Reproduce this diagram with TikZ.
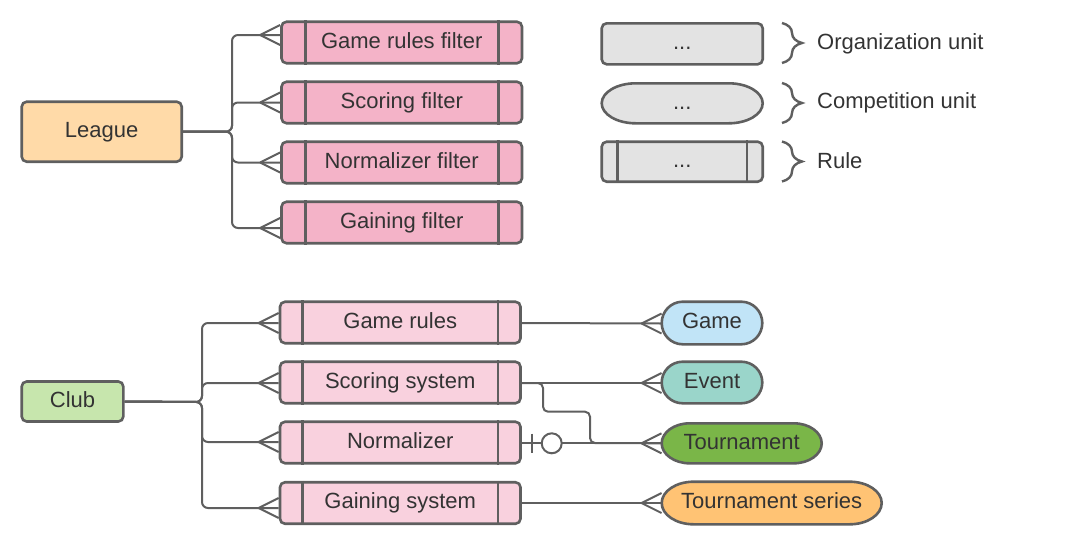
\documentclass[tikz,border=0pt]{standalone}
\usepackage{fontspec}
\setmainfont{Liberation Sans}
\usetikzlibrary{calc,decorations.pathreplacing}
\definecolor{bord}{HTML}{5F5F5F}
\definecolor{txtc}{HTML}{333333}
\definecolor{leaguec}{HTML}{FFDAA8}
\definecolor{clubc}{HTML}{C7E6AD}
\definecolor{pinkA}{HTML}{F4B3C8}
\definecolor{pinkB}{HTML}{F9D1DE}
\definecolor{gamec}{HTML}{C1E4F7}
\definecolor{eventc}{HTML}{9AD5CA}
\definecolor{tourc}{HTML}{7AB648}
\definecolor{seriesc}{HTML}{FFC374}
\definecolor{grayc}{HTML}{E3E3E3}
\tikzset{
  txt/.style={text=txtc,font=\fontsize{22}{24}\selectfont,inner sep=0pt,text height=16pt,text depth=4.5pt},
  ln/.style={draw=bord,line width=2.6pt},
  cn/.style={draw=bord,line width=2pt},
  unitbox/.style={txt,ln,rounded corners=5pt},
  crow/.pic={\draw[cn] (-20,0) -- (0,10) (-20,0) -- (0,-10);},
  bracestyle/.style={draw=bord,line width=2.4pt,decorate,decoration={brace,amplitude=20pt}}
}
% rule box: name, cx, cy (px, y down), w, h, fill, text, inset
\newcommand\rulebox[8]{%
  \node[unitbox,fill=#6,minimum width=#4pt,minimum height=#5pt] (#1) at (#2,-#3) {#7};
  \draw[ln] ([xshift=#8pt]#1.north west) -- ([xshift=#8pt]#1.south west)
            ([xshift=-#8pt]#1.north east) -- ([xshift=-#8pt]#1.south east);}
% stadium with elliptic ends: name, cx, cy, w, h, xr, fill, text
\newcommand\stad[8]{%
  \pgfmathsetmacro\sxL{#2-#4/2+#6}\pgfmathsetmacro\sxR{#2+#4/2-#6}%
  \pgfmathsetmacro\syT{-#3+#5/2}\pgfmathsetmacro\syB{-#3-#5/2}\pgfmathsetmacro\syH{#5/2}%
  \draw[ln,fill=#7] (\sxL,\syT) -- (\sxR,\syT)
     arc[start angle=90,end angle=-90,x radius=#6pt,y radius=\syH pt] -- (\sxL,\syB)
     arc[start angle=270,end angle=90,x radius=#6pt,y radius=\syH pt] -- cycle;
  \node[txt,minimum width=#4pt,minimum height=#5pt] (#1) at (#2,-#3) {#8};}
\begin{document}
\begin{tikzpicture}[x=1pt,y=1pt]
\useasboundingbox (0,0) rectangle (1081,-544);
% ---------- top: League ----------
\node[unitbox,fill=leaguec,minimum width=160pt,minimum height=60pt] (league) at (101.7,-131.7) {League};
\rulebox{f1}{401.75}{42.5}{240.5}{41.5}{pinkA}{Game rules filter}{25}
\rulebox{f2}{401.75}{102.5}{240.5}{41.5}{pinkA}{Scoring filter}{25}
\rulebox{f3}{401.75}{162.5}{240.5}{41.5}{pinkA}{Normalizer filter}{25}
\rulebox{f4}{401.75}{222.5}{240.5}{41.5}{pinkA}{Gaining filter}{25}
\coordinate (tA) at (232,-131.7);
\draw[cn,rounded corners=6pt] (league.east) -- (tA) -- (232,-35) -- ([yshift=7.5pt]f1.west);
\draw[cn,rounded corners=6pt] (league.east) -- (tA) -- (232,-102.5) -- (f2.west);
\draw[cn,rounded corners=6pt] (league.east) -- (tA) -- (232,-162.5) -- (f3.west);
\draw[cn,rounded corners=6pt] (league.east) -- (tA) -- (232,-228) -- ([yshift=-5.5pt]f4.west);
\path ([yshift=7.5pt]f1.west) pic{crow};
\path (f2.west) pic{crow};
\path (f3.west) pic{crow};
\path ([yshift=-5.5pt]f4.west) pic{crow};
% ---------- legend ----------
\node[unitbox,fill=grayc,minimum width=161pt,minimum height=41pt] (lorg) at (682.2,-43.8) {...};
\stad{lcomp}{682.2}{103.3}{161}{40}{34}{grayc}{...}
\rulebox{lrule}{682.2}{161.7}{161}{40}{grayc}{...}{17}
\draw[bracestyle] (782,-23) -- (782,-63);
\draw[bracestyle] (782,-83) -- (782,-123);
\draw[bracestyle] (782,-141.5) -- (782,-181.5);
\node[txt,anchor=west] (lbl1) at (817,-43.5) {Organization unit};
\node[txt,anchor=west] (lbl2) at (817,-103) {Competition unit};
\node[txt,anchor=west] (lbl3) at (817,-162.5) {Rule};
% ---------- bottom: Club ----------
\node[unitbox,fill=clubc,minimum width=101.6pt,minimum height=40pt] (club) at (72.5,-401.5) {Club};
\rulebox{r1}{400.25}{322.5}{240.5}{41.5}{pinkB}{Game rules}{24}
\rulebox{r2}{400.25}{382.5}{240.5}{41.5}{pinkB}{Scoring system}{24}
\rulebox{r3}{400.25}{442.5}{240.5}{41.5}{pinkB}{Normalizer}{24}
\rulebox{r4}{400.25}{503}{240.5}{41.5}{pinkB}{Gaining system}{24}
\coordinate (tB) at (202,-402);
\draw[cn,rounded corners=6pt] (club.east) -- (tB) -- (202,-323) -- ([yshift=-0.5pt]r1.west);
\draw[cn,rounded corners=6pt] (club.east) -- (tB) -- (202,-383) -- ([yshift=-0.5pt]r2.west);
\draw[cn,rounded corners=6pt] (club.east) -- (tB) -- (202,-442) -- ([yshift=0.5pt]r3.west);
\draw[cn,rounded corners=6pt] (club.east) -- (tB) -- (202,-508) -- ([yshift=-5pt]r4.west);
\path ([yshift=-0.5pt]r1.west) pic{crow};
\path ([yshift=-0.5pt]r2.west) pic{crow};
\path ([yshift=0.5pt]r3.west) pic{crow};
\path ([yshift=-5pt]r4.west) pic{crow};
% competition units
\stad{game}{712}{323}{100.6}{42.6}{21}{gamec}{Game}
\stad{event}{712}{382.5}{100.6}{41.6}{21}{eventc}{Event}
\stad{tour}{741.7}{443.3}{160}{40}{28}{tourc}{Tournament}
\stad{series}{771.7}{503}{220}{42.6}{32}{seriesc}{Tournament series}
% right connectors
\draw[cn] ([yshift=-0.5pt]r1.east) -- ([yshift=-0.5pt]game.west);
\path ([yshift=-0.5pt]game.west) pic{crow};
\draw[cn] ([yshift=-0.5pt]r2.east) -- ([yshift=-0.5pt]event.west);
\path ([yshift=-0.5pt]event.west) pic{crow};
\draw[cn,rounded corners=5pt] ([yshift=-0.5pt]r2.east) -- (543,-383) -- (543,-411.7) -- (590,-411.7) -- (590,-443) -- (tour.west);
\draw[cn] (r3.east|-tour.west) -- (tour.west);
\path (tour.west) pic{crow};
\draw[cn] (531.7,-433.5) -- (531.7,-452.5);
\draw[cn,fill=white] (551.7,-443.3) circle[radius=10pt];
\draw[cn] (r4.east) -- (series.west);
\path (series.west) pic{crow};
\end{tikzpicture}
\end{document}
